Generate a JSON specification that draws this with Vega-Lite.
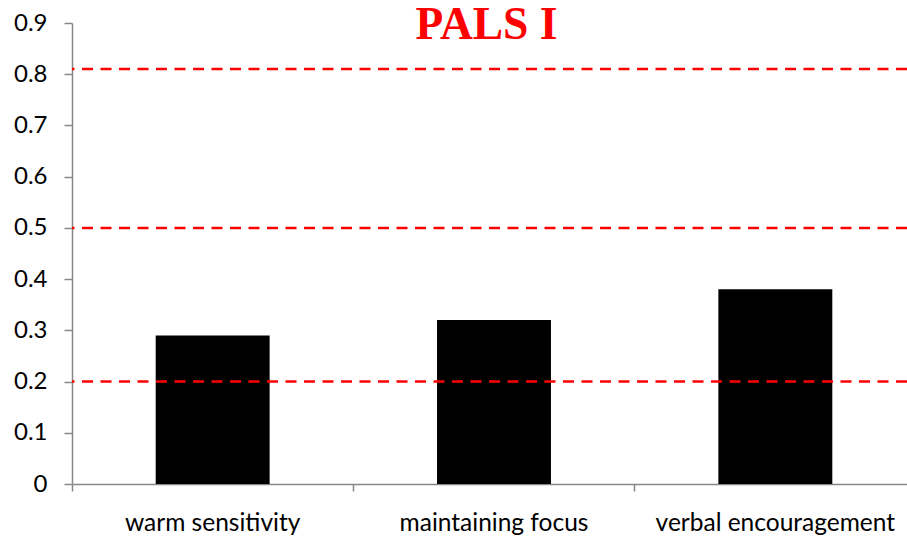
{
  "$schema": "https://vega.github.io/schema/vega-lite/v6.json",
  "width": 835,
  "height": 461,
  "autosize": {"type": "none"},
  "padding": {"left": 72, "top": 23, "right": 0, "bottom": 57},
  "background": "white",
  "config": {"view": {"stroke": null}},
  "title": {
    "text": "PALS I",
    "font": "Liberation Serif",
    "fontSize": 45.5,
    "fontWeight": "bold",
    "color": "#ff0000",
    "anchor": "middle",
    "frame": "group",
    "baseline": "alphabetic",
    "offset": 0,
    "dy": 73,
    "dx": -3
  },
  "datasets": {
    "bars": [
      {"category": "warm sensitivity", "value": 0.29},
      {"category": "maintaining focus", "value": 0.32},
      {"category": "verbal encouragement", "value": 0.38}
    ],
    "refs": [{"ref": 0.81}, {"ref": 0.5}, {"ref": 0.2}]
  },
  "layer": [
    {
      "data": {"name": "bars"},
      "mark": {"type": "bar", "color": "#000000"},
      "encoding": {
        "x": {
          "field": "category",
          "type": "nominal",
          "sort": null,
          "title": null,
          "scale": {"range": [0, 844], "paddingInner": 0.595, "paddingOuter": 0.2975},
          "axis": {
            "labelAngle": 0,
            "labelFont": "Lato",
            "labelFontSize": 24.5,
            "labelColor": "#000000",
            "labelBaseline": "alphabetic",
            "labelPadding": 39,
            "labelLimit": 0,
            "tickSize": 7,
            "bandPosition": -0.734,
            "domainColor": "#878787",
            "tickColor": "#878787",
            "domainWidth": 1.5,
            "tickWidth": 1.5,
            "grid": false
          }
        },
        "y": {
          "field": "value",
          "type": "quantitative",
          "title": null,
          "scale": {"domain": [0, 0.9], "nice": false},
          "axis": {
            "values": [0, 0.1, 0.2, 0.3, 0.4, 0.5, 0.6, 0.7, 0.8, 0.9],
            "format": "~g",
            "labelFont": "Lato",
            "labelFontSize": 24,
            "labelColor": "#000000",
            "labelPadding": 17,
            "tickSize": 8,
            "domainColor": "#878787",
            "tickColor": "#878787",
            "domainWidth": 1.5,
            "tickWidth": 1.5,
            "grid": false
          }
        }
      }
    },
    {
      "data": {"name": "refs"},
      "mark": {"type": "rule", "color": "#ff0000", "strokeDash": [11, 7.5], "strokeWidth": 2.5},
      "encoding": {
        "y": {"field": "ref", "type": "quantitative"}
      }
    }
  ]
}
